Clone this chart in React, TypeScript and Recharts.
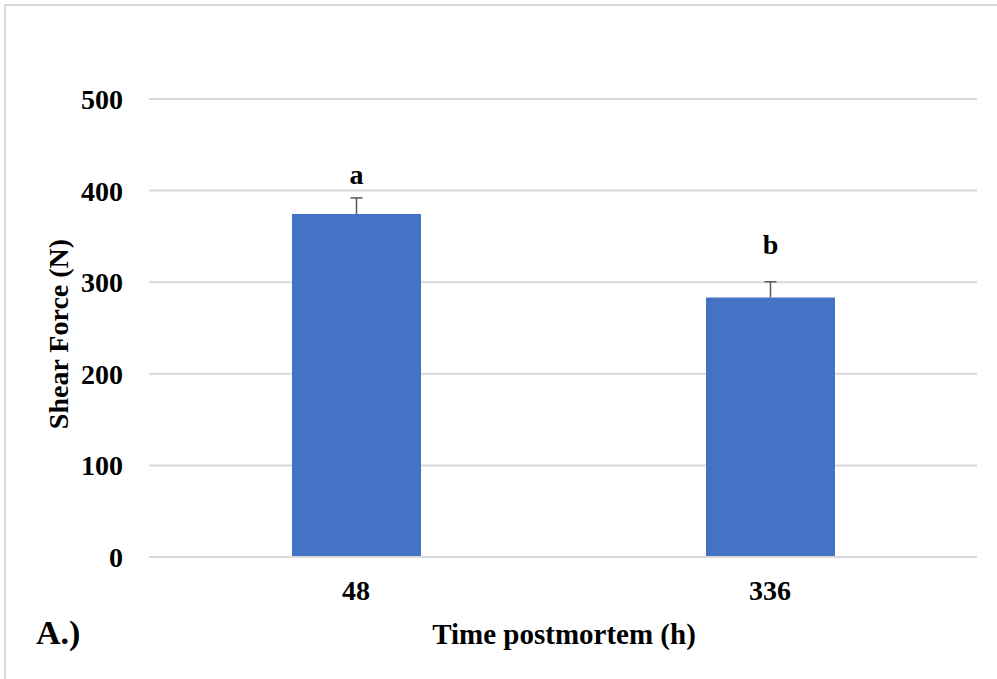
import React from 'react';
import { BarChart, Bar, XAxis, YAxis, CartesianGrid } from 'recharts';

// values
const times = ['48', '336'];
const shearForce = [374.5, 283.3];
const shearErr = [17.5, 17.2];
const letters = ['a', 'b'];
const yTicks = [0, 100, 200, 300, 400, 500];

// per-bar gap between error cap and significance letter (px)
const LETTER_GAP = [14, 28];

const FONT = '"Liberation Serif", "Times New Roman", serif';
const BAR_COLOR = '#4472c4';
const ERR_COLOR = '#595959';

const data = times.map((t, i) => ({
  time: t,
  value: shearForce[i],
  err: shearErr[i],
  letter: letters[i],
  idx: i,
}));

const BarWithError = (props: any) => {
  const { x, y, width, height, payload } = props;
  const pxPerUnit = height / payload.value;
  const errTop = y - payload.err * pxPerUnit;
  const cx = x + width / 2;
  return (
    <g>
      <rect x={x} y={y} width={width} height={height} fill={BAR_COLOR} />
      <line x1={cx} y1={y} x2={cx} y2={errTop} stroke={ERR_COLOR} strokeWidth={1.5} />
      <line x1={cx - 6} y1={errTop} x2={cx + 6} y2={errTop} stroke={ERR_COLOR} strokeWidth={1.5} />
      <text
        x={cx}
        y={errTop - LETTER_GAP[payload.idx]}
        textAnchor="middle"
        fontFamily={FONT}
        fontWeight="bold"
        fontSize={28}
        fill="#000"
      >
        {payload.letter}
      </text>
    </g>
  );
};

const App: React.FC = () => {
  return (
    <div style={{ position: 'absolute', left: 0, top: 0, width: 997, height: 679, background: '#fff' }}>
      <div
        style={{
          position: 'absolute',
          left: 4,
          top: 4,
          width: 993,
          height: 675,
          borderTop: '2px solid #d9d9d9',
          borderLeft: '2px solid #d9d9d9',
          boxSizing: 'border-box',
        }}
      />
      <BarChart
        width={997}
        height={679}
        data={data}
        margin={{ top: 99, right: 20, bottom: 0, left: 0 }}
        style={{ position: 'absolute', left: 0, top: 0 }}
      >
        <CartesianGrid vertical={false} stroke="#d9d9d9" strokeWidth={2} />
        <XAxis
          dataKey="time"
          height={122}
          axisLine={{ stroke: '#d9d9d9', strokeWidth: 2 }}
          tickLine={false}
          tickMargin={17}
          tick={{ fontFamily: FONT, fontWeight: 'bold', fontSize: 28, fill: '#000' }}
          label={{
            content: ({ viewBox }: any) => (
              <g>
                <text
                  x={viewBox.x + viewBox.width / 2 + 1}
                  y={644}
                  textAnchor="middle"
                  fontFamily={FONT}
                  fontWeight="bold"
                  fontSize={29}
                  fill="#000"
                >
                  Time postmortem (h)
                </text>
                <text x={36} y={644} fontFamily={FONT} fontWeight="bold" fontSize={34} fill="#000">
                  A.)
                </text>
              </g>
            ),
          }}
        />
        <YAxis
          width={149}
          domain={[0, 500]}
          ticks={yTicks}
          axisLine={false}
          tickLine={false}
          tickMargin={20}
          tick={{ fontFamily: FONT, fontWeight: 'bold', fontSize: 28, fill: '#000' }}
          label={{
            content: ({ viewBox }: any) => {
              const cx = 58;
              const cy = viewBox.y + viewBox.height / 2 + 6;
              return (
                <text
                  x={cx}
                  y={cy}
                  transform={`rotate(-90 ${cx} ${cy})`}
                  textAnchor="middle"
                  dominantBaseline="central"
                  fontFamily={FONT}
                  fontWeight="bold"
                  fontSize={28}
                  fill="#000"
                >
                  Shear Force (N)
                </text>
              );
            },
          }}
        />
        <Bar dataKey="value" barSize={129} shape={<BarWithError />} isAnimationActive={false} />
      </BarChart>
    </div>
  );
};

export default App;
